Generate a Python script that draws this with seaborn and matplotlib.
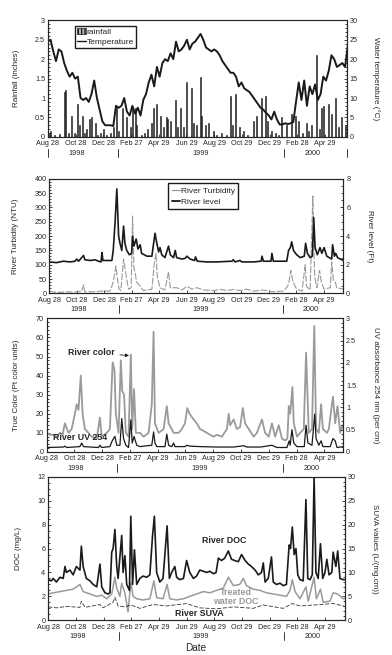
import numpy as np
import matplotlib
matplotlib.use("Agg")
import matplotlib.pyplot as plt
import matplotlib.transforms as mtransforms
from matplotlib.patches import Patch
from matplotlib.lines import Line2D
import seaborn as sns

# x axis is days since Aug 28 1998
tick_days = [0, 61, 122, 183, 244, 305, 366, 427, 488, 549, 610]
tick_labels = ["Aug 28", "Oct 28", "Dec 28", "Feb 27", "Apr 29", "Jun 29",
               "Aug 29", "Oct 29", "Dec 29", "Feb 28", "Apr 29"]
year_labels = ["1998", "1999", "2000"]
year_days = [64, 336, 582]
year_breaks = [155, 520]

# panel 1: water temperature every 6 days, rainfall events
temp_day = np.arange(0, 661, 6)
temp_c = [24.5, 25, 22, 19.5, 22.5, 22, 19, 17, 15.5, 16.5,
          15, 15.5, 10, 9.5, 10, 9, 11, 14.5, 10, 7,
          4, 3, 3, 3, 2.8, 8, 7.5, 8, 10, 6.5,
          5.5, 8, 6, 7.5, 5.5, 9.5, 11, 14, 16, 13,
          18, 15.5, 19, 20, 19.5, 21.5, 20, 24.5, 22, 22.5,
          23.5, 25, 22.5, 24, 24.5, 25.5, 26.5, 25, 23, 22.5,
          22, 22.5, 22, 21, 19.5, 18.5, 17.5, 16.5, 16.5, 15.5,
          13, 14, 12.5, 12, 11.5, 10.5, 9.5, 8.5, 7.5, 7,
          6.2, 5.5, 4.5, 6.5, 4.5, 3.2, 3.2, 3.5, 3.3, 3.5,
          3.8, 9, 14, 9.5, 14.5, 8, 13, 11, 13.5, 9.5,
          11, 15.5, 14.5, 17, 21, 20, 18, 18.5, 19, 18,
          23.5]
rain_day = [3, 6, 15, 25, 36, 39, 45, 52, 58, 65, 70, 76, 80, 85, 91, 96, 104, 110,
            115, 122, 130, 137, 144, 150, 156, 164, 172, 182, 186, 192, 195, 205,
            212, 220, 228, 233, 239, 247, 254, 260, 264, 269, 280, 285, 291, 298,
            305, 315, 320, 327, 335, 338, 346, 353, 364, 372, 383, 392, 401, 406,
            412, 421, 430, 440, 452, 460, 471, 478, 483, 493, 500, 507, 513, 526,
            535, 544, 551, 560, 570, 573, 581, 592, 597, 603, 606, 617, 625, 632,
            639, 647, 654]
rain_in = [0.1, 0.15, 0.05, 0.08, 1.15, 1.2, 0.1, 0.55, 0.1, 0.85, 0.3, 0.55, 0.1, 0.2,
           0.45, 0.5, 0.35, 0.05, 0.1, 0.2, 0.05, 0.1, 0.25, 0.8, 0.15, 0.75, 0.5,
           0.25, 0.75, 0.75, 0.3, 0.05, 0.1, 0.2, 0.35, 0.75, 0.85, 0.55, 0.25, 0.5,
           0.45, 0.4, 0.95, 0.25, 0.75, 0.25, 1.4, 1.25, 0.35, 0.3, 1.55, 0.55, 0.3,
           0.35, 0.15, 0.05, 0.1, 0.05, 1.05, 0.3, 1.1, 0.25, 0.15, 0.05, 0.4, 0.55,
           1.0, 1.05, 0.4, 0.15, 0.1, 0.05, 0.5, 0.3, 0.6, 0.55, 0.4, 0.1, 0.35,
           0.15, 0.3, 2.1, 0.2, 0.75, 0.8, 0.85, 0.6, 1.0, 0.25, 0.5, 0.3]

# panel 2: river level (ft) and turbidity (NTU)
level_day = [0, 16, 31, 46, 57, 61, 65, 76, 79, 91, 102, 109, 115, 117, 119, 139, 142,
             146, 150, 154, 157, 161, 165, 168, 172, 178, 183, 185, 188, 193, 197,
             202, 205, 217, 228, 231, 235, 239, 243, 246, 250, 257, 265, 269, 276,
             280, 283, 295, 302, 306, 313, 323, 325, 329, 350, 372, 406, 409, 413,
             424, 428, 454, 471, 473, 476, 493, 495, 498, 528, 532, 536, 539, 543,
             550, 558, 567, 570, 574, 580, 585, 588, 591, 596, 602, 606, 611, 617,
             628, 630, 634, 637, 641, 647, 654]
level_ft = [2.2, 2.15, 2.25, 2.2, 2.25, 2.4, 2.25, 2.65, 2.35, 2.3, 2.35, 2.25, 2.2,
            2.85, 2.3, 2.3, 3.0, 4.9, 7.3, 4.0, 3.5, 3.0, 4.7, 3.5, 3.0, 2.7, 2.8,
            4.0, 3.3, 3.8, 3.1, 3.4, 2.8, 2.6, 2.6, 3.3, 4.2, 3.5, 2.9, 3.2, 2.7,
            2.5, 3.3, 2.7, 2.5, 3.0, 2.5, 2.4, 2.45, 2.6, 2.4, 2.3, 2.55, 2.25, 2.2,
            2.2, 2.25, 2.35, 2.2, 2.3, 2.2, 2.2, 2.25, 2.6, 2.25, 2.25, 2.8, 2.25,
            2.25, 3.0, 3.2, 3.6, 3.0, 2.7, 2.5, 2.6, 3.5, 2.8, 2.5, 2.6, 5.3, 3.2,
            2.7, 3.2, 2.8, 3.2, 2.6, 2.4, 3.4, 2.6, 2.8, 2.5, 2.4, 2.3]
turb_day = [0, 9, 24, 39, 53, 72, 76, 79, 98, 116, 135, 142, 148, 151, 155, 159, 165,
            168, 172, 176, 182, 185, 188, 191, 194, 202, 209, 228, 233, 237, 240,
            246, 257, 265, 269, 283, 295, 306, 317, 328, 343, 365, 380, 395, 409,
            424, 439, 454, 476, 498, 521, 530, 533, 537, 542, 550, 562, 569, 572,
            580, 586, 590, 595, 601, 605, 611, 625, 628, 632, 636, 639, 654]
turb_ntu = [8, 5, 4, 6, 4, 8, 30, 5, 6, 8, 8, 40, 95, 55, 15, 10, 120, 90, 50, 15, 20,
            270, 90, 70, 40, 25, 10, 15, 100, 140, 60, 20, 12, 75, 20, 20, 12, 25, 15,
            20, 12, 10, 14, 10, 14, 10, 15, 8, 12, 6, 8, 25, 40, 80, 40, 15, 8, 100,
            25, 12, 340, 60, 20, 80, 40, 15, 20, 110, 45, 40, 20, 15]

# panel 3: true color and UV 254
color_day = [0, 7, 15, 22, 29, 35, 40, 48, 55, 62, 66, 70, 75, 79, 84, 92, 99, 110,
             117, 121, 132, 139, 145, 149, 152, 158, 163, 166, 170, 174, 180, 185,
             188, 192, 196, 205, 213, 224, 231, 235, 238, 246, 257, 264, 268, 279,
             290, 297, 304, 309, 314, 323, 330, 337, 345, 352, 359, 367, 374, 385,
             396, 400, 403, 411, 418, 425, 431, 436, 444, 455, 462, 473, 480, 488,
             495, 502, 510, 517, 524, 529, 532, 535, 540, 543, 550, 557, 565, 570,
             576, 583, 588, 592, 598, 603, 607, 616, 620, 629, 634, 639, 645, 649, 652]
color_pt = [10, 9, 9, 8, 10, 9, 15, 10, 12, 20, 25, 22, 40, 20, 12, 10, 8, 7, 18, 8,
            10, 12, 47, 43, 20, 10, 48, 32, 30, 10, 8, 51, 12, 33, 10, 10, 8, 10, 25,
            63, 15, 10, 12, 24, 15, 10, 10, 12, 15, 23, 20, 17, 15, 12, 11, 10, 9, 8,
            9, 8, 12, 20, 14, 17, 12, 13, 23, 15, 12, 8, 10, 17, 10, 8, 15, 8, 14, 7,
            6, 7, 24, 20, 34, 15, 8, 10, 12, 52, 10, 12, 66, 12, 10, 25, 12, 10, 12,
            29, 15, 24, 10, 14, 12]
uv_day = [0, 37, 40, 44, 73, 77, 81, 114, 117, 121, 139, 144, 150, 154, 161, 165, 169,
          174, 180, 185, 188, 192, 198, 205, 231, 235, 238, 242, 260, 264, 268, 275,
          279, 282, 304, 308, 315, 337, 374, 411, 433, 440, 469, 495, 506, 528, 533,
          535, 539, 543, 550, 566, 570, 574, 583, 589, 592, 598, 603, 607, 623, 629,
          634, 638, 652]
uv_abs = [0.1, 0.11, 0.13, 0.1, 0.12, 0.2, 0.12, 0.1, 0.15, 0.1, 0.12, 0.25, 0.35,
          0.15, 0.15, 0.75, 0.3, 0.15, 0.1, 0.72, 0.2, 0.35, 0.15, 0.12, 0.15, 0.45,
          0.2, 0.12, 0.12, 0.4, 0.15, 0.12, 0.2, 0.12, 0.12, 0.15, 0.13, 0.12, 0.11,
          0.11, 0.14, 0.11, 0.11, 0.15, 0.1, 0.1, 0.25, 0.15, 0.5, 0.2, 0.12, 0.12,
          0.6, 0.2, 0.15, 0.85, 0.3, 0.15, 0.25, 0.12, 0.12, 0.3, 0.25, 0.1, 0.12]

# panel 4: river DOC, treated water DOC, river SUVA
doc_day = [0, 7, 11, 18, 26, 33, 37, 40, 48, 55, 62, 70, 73, 77, 84, 92, 99, 107, 114,
           118, 125, 132, 136, 140, 143, 147, 151, 154, 162, 165, 169, 173, 179, 182,
           186, 190, 195, 202, 209, 217, 224, 230, 234, 239, 246, 253, 262, 267, 272,
           279, 283, 290, 298, 305, 312, 320, 327, 334, 342, 349, 356, 364, 370, 375,
           382, 389, 397, 404, 411, 419, 426, 434, 441, 448, 456, 463, 470, 474, 478,
           485, 492, 496, 503, 511, 518, 525, 531, 534, 538, 542, 546, 550, 555, 562,
           568, 572, 577, 582, 586, 590, 595, 600, 605, 610, 614, 619, 625, 628, 634,
           638, 643, 650, 658]
doc_mg = [3.4, 3.3, 3.5, 3.2, 3.6, 3.5, 4.5, 4.0, 4.2, 3.8, 4.5, 4.2, 6.2, 4.5, 3.5,
          3.3, 3.0, 2.8, 4.7, 2.8, 2.3, 2.2, 2.3, 5.7, 6.0, 7.6, 4.5, 3.5, 7.1, 4.0,
          5.4, 3.0, 2.5, 8.7, 3.0, 5.9, 3.0, 3.5, 3.7, 3.6, 3.8, 7.1, 8.7, 4.0, 3.2,
          3.5, 7.9, 3.5, 4.0, 4.5, 3.6, 3.4, 3.5, 5.0, 4.0, 3.5, 3.7, 4.2, 4.1, 4.0,
          4.1, 3.9, 4.0, 5.2, 5.0, 5.2, 5.8, 5.1, 5.0, 4.9, 5.5, 5.0, 4.7, 4.5, 4.2,
          3.8, 4.0, 4.8, 3.2, 3.5, 5.3, 3.2, 3.0, 3.1, 2.9, 3.0, 6.3, 6.0, 7.8, 5.5,
          6.0, 3.8, 3.4, 3.3, 10.1, 3.5, 3.4, 3.8, 12.0, 4.0, 3.5, 6.4, 3.5, 4.0, 5.1,
          3.8, 4.0, 5.7, 4.5, 5.8, 3.5, 3.4, 3.4]
tdoc_day = [0, 11, 26, 40, 55, 70, 77, 92, 107, 118, 129, 140, 147, 151, 158, 162, 169,
            176, 182, 187, 195, 209, 224, 233, 239, 253, 262, 268, 283, 298, 312, 327,
            342, 356, 371, 386, 397, 408, 422, 430, 437, 452, 467, 481, 496, 511, 525,
            533, 538, 544, 555, 568, 573, 586, 591, 600, 606, 621, 628, 638, 650, 658]
tdoc_mg = [2.2, 2.3, 2.4, 2.5, 2.6, 3.0, 2.4, 2.2, 2.0, 2.1, 1.8, 2.2, 3.6, 2.7, 2.0,
           3.1, 2.3, 0.7, 3.2, 2.0, 1.8, 1.7, 1.8, 3.3, 1.9, 1.8, 3.0, 1.8, 1.7, 1.8,
           2.0, 2.2, 2.4, 2.3, 2.5, 2.7, 3.6, 2.9, 3.0, 3.5, 2.9, 2.6, 2.5, 2.3, 2.2,
           2.1, 2.0, 2.5, 3.4, 2.4, 1.8, 2.8, 1.6, 3.6, 1.8, 2.6, 1.5, 1.6, 2.3, 2.2,
           1.8, 1.9]
suva_day = [0, 18, 40, 70, 73, 81, 114, 121, 143, 147, 154, 169, 182, 202, 231, 261,
            305, 334, 371, 408, 452, 474, 518, 538, 555, 586, 628, 658]
suva_val = [2.8, 2.6, 2.9, 2.7, 4.0, 2.7, 3.3, 2.6, 3.8, 4.8, 3.0, 2.8, 3.2, 2.5, 3.3,
            3.0, 3.5, 2.6, 2.4, 2.8, 2.5, 3.2, 2.5, 3.5, 3.0, 3.2, 3.5, 2.8]

sns.set_theme(style="ticks")
plt.rcParams["font.family"] = ["Liberation Sans", "DejaVu Sans"]
plt.rcParams["axes.linewidth"] = 0.8

FS = 5.2
GREY = "#9a9a9a"

fig = plt.figure(figsize=(3.92, 6.55), dpi=100)
ax1 = fig.add_axes([0.122, 0.791, 0.763, 0.178])
ax2 = fig.add_axes([0.126, 0.552, 0.750, 0.175])
ax3 = fig.add_axes([0.119, 0.310, 0.757, 0.204])
ax4 = fig.add_axes([0.123, 0.053, 0.757, 0.219])


def date_axis(ax, xmax, ends=False):
    ax.set_xlim(0, xmax)
    ax.set_xticks(tick_days)
    ax.set_xticklabels(tick_labels, fontsize=FS)
    ax.tick_params(axis="x", direction="in", length=2.5, pad=2.5, width=0.6)
    h_pt = ax.get_position().height * fig.get_figheight() * 72
    trans = mtransforms.blended_transform_factory(ax.transData, ax.transAxes)
    for d, y in zip(year_days, year_labels):
        ax.text(d, -11.8 / h_pt, y, transform=trans, ha="center", va="center",
                fontsize=FS)
    breaks = year_breaks + ([0, xmax] if ends else [])
    for d in breaks:
        ax.plot([d, d], [-8.6 / h_pt, -14.4 / h_pt], transform=trans, color="k",
                lw=0.6, clip_on=False)


def y_axes(ax, axr, lticks, rticks, llab, rlab):
    ax.set_ylim(lticks[0], lticks[-1])
    ax.set_yticks(lticks)
    ax.set_yticklabels([f"{t:g}" for t in lticks], fontsize=FS)
    ax.set_ylabel(llab, fontsize=FS + 0.6, labelpad=11)
    axr.set_ylim(rticks[0], rticks[-1])
    axr.set_yticks(rticks)
    axr.set_yticklabels([f"{t:g}" for t in rticks], fontsize=FS)
    axr.set_ylabel(rlab, fontsize=FS + 0.6, rotation=270, labelpad=16)
    for a in (ax, axr):
        a.minorticks_on()
        a.tick_params(axis="y", which="both", direction="in", width=0.6, pad=2)
        a.tick_params(axis="y", which="major", length=2.5)
        a.tick_params(axis="y", which="minor", length=1.5)
        a.tick_params(axis="x", which="minor", bottom=False, top=False)


# panel 1
ax1r = ax1.twinx()
ax1.bar(rain_day, rain_in, width=2.2, color="#333333", edgecolor="k", linewidth=0.4)
sns.lineplot(x=temp_day, y=temp_c, ax=ax1r, color="k", linewidth=1.4, errorbar=None)
y_axes(ax1, ax1r, [0, 0.5, 1, 1.5, 2, 2.5, 3], [0, 5, 10, 15, 20, 25, 30],
       "Rainfall (inches)", "Water temperature (°C)")
date_axis(ax1, 658, ends=True)
ax1r.set_xlim(0, 658)
h1 = [Patch(facecolor="#bbbbbb", edgecolor="k", hatch="|||||", linewidth=0.5),
      Line2D([], [], color="k", lw=1.0)]
ax1r.legend(h1, ["rainfall", "Temperature"], loc="upper left",
            bbox_to_anchor=(0.09, 0.955), fontsize=FS + 0.8, frameon=True,
            fancybox=False, edgecolor="k", framealpha=1, borderpad=0.3,
            handlelength=1.0, handletextpad=0.1, labelspacing=0.25,
            borderaxespad=0)

# panel 2
ax2r = ax2.twinx()
sns.lineplot(x=turb_day, y=turb_ntu, ax=ax2, color=GREY, linewidth=0.8,
             linestyle=(0, (6, 1.5)), errorbar=None)
sns.lineplot(x=level_day, y=level_ft, ax=ax2r, color="k", linewidth=1.2, errorbar=None)
y_axes(ax2, ax2r, [0, 50, 100, 150, 200, 250, 300, 350, 400], [0, 2, 4, 6, 8],
       "River Turbidity (NTU)", "River level (Ft)")
date_axis(ax2, 654)
ax2r.set_xlim(0, 654)
h2 = [Line2D([], [], color=GREY, lw=0.9), Line2D([], [], color="k", lw=1.3)]
ax2r.legend(h2, ["River Turbidity", "River level"], loc="upper left",
            bbox_to_anchor=(0.404, 0.96), fontsize=FS + 0.8, frameon=True,
            fancybox=False, edgecolor="k", framealpha=1, borderpad=0.4,
            handlelength=1.0, handletextpad=0.1, labelspacing=0.4,
            borderaxespad=0)

# panel 3
ax3r = ax3.twinx()
sns.lineplot(x=color_day, y=color_pt, ax=ax3, color=GREY, linewidth=1.3, errorbar=None)
sns.lineplot(x=uv_day, y=uv_abs, ax=ax3r, color="k", linewidth=0.9, errorbar=None)
y_axes(ax3, ax3r, [0, 10, 20, 30, 40, 50, 60, 70], [0, 0.5, 1, 1.5, 2, 2.5, 3],
       "True Color (Pt color units)", "UV absorbance 254 nm (per cm)")
date_axis(ax3, 652)
ax3r.set_xlim(0, 652)
ax3.annotate("River color", xy=(181, 50.5), xytext=(48, 52), fontsize=FS + 1.2,
             fontweight="bold", va="center", ha="left",
             arrowprops=dict(arrowstyle="-|>", color="k", lw=0.6,
                             mutation_scale=5, shrinkA=1, shrinkB=0))
ax3.text(13, 7.5, "River UV 254", fontsize=FS + 1.2, fontweight="bold",
         va="center", ha="left")

# panel 4
ax4r = ax4.twinx()
sns.lineplot(x=tdoc_day, y=tdoc_mg, ax=ax4, color=GREY, linewidth=1.1, errorbar=None)
sns.lineplot(x=doc_day, y=doc_mg, ax=ax4, color="k", linewidth=1.2, errorbar=None)
sns.lineplot(x=suva_day, y=suva_val, ax=ax4r, color="#333333", linewidth=0.6,
             linestyle=(0, (5, 2)), errorbar=None)
y_axes(ax4, ax4r, [0, 2, 4, 6, 8, 10, 12], [0, 5, 10, 15, 20, 25, 30],
       "DOC (mg/L)", "SUVA values (L/(mg.cm))")
date_axis(ax4, 654)
ax4r.set_xlim(0, 654)
ax4.set_xlabel("")
fig.text(0.50, 0.0107, "Date", fontsize=FS + 2.0, ha="center", va="center")
ax4.text(338, 6.7, "River DOC", fontsize=FS + 1.2, fontweight="bold",
         va="center", ha="left")
ax4.text(413, 1.95, "Treated\nwater DOC", fontsize=FS + 1.2, fontweight="bold",
         color=GREY, va="center", ha="center", linespacing=1.1)
ax4.text(279, 0.6, "River SUVA", fontsize=FS + 1.2, fontweight="bold",
         va="center", ha="left")

fig.savefig("out.png", dpi=100)
